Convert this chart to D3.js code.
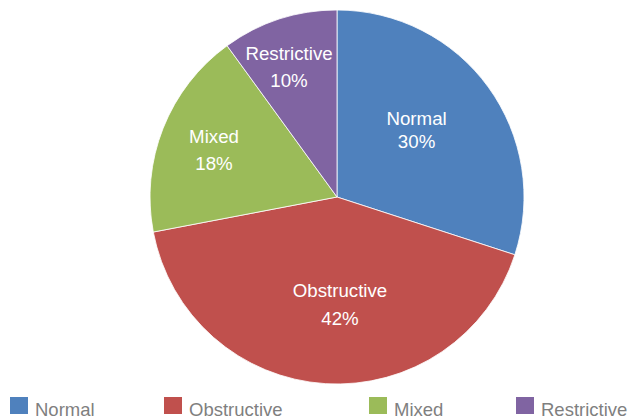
<!DOCTYPE html>
<html>
<head>
<meta charset="utf-8">
<script src="https://cdn.jsdelivr.net/npm/d3@7"></script>
<style>
  body { margin: 0; background: #fff; }
  svg text { font-family: "Liberation Sans", Arial, sans-serif; }
</style>
</head>
<body>
<svg id="chart" width="629" height="420"></svg>
<script>
(function() {

    // ---------------------------data---------------------------//
    var categories = ["Normal", "Obstructive", "Mixed", "Restrictive"];
    var percents   = [30, 42, 18, 10];
    var colors     = ["#4F81BD", "#C0504D", "#9BBB59", "#8064A2"];

    // label placement (fraction of radius, angle nudge in degrees, line gap)
    var labelFrac  = [0.557, 0.573, 0.705, 0.743];
    var labelNudge = [-4.2, -5.2, -0.5, -2.2];
    var labelGap   = [23, 28, 27, 27];
    // legend x positions
    var legendX    = [10, 164, 369, 516];

    var svg = d3.select("#chart");
    var cx = 337, cy = 197, r = 187;

    var pie = d3.pie().sort(null).value(function(d){ return d; });
    var arcs = pie(percents);
    var arc = d3.arc().innerRadius(0).outerRadius(r);

    var g = svg.append("g").attr("transform", "translate(" + cx + "," + cy + ")");

    g.selectAll("path")
      .data(arcs)
      .enter().append("path")
      .attr("d", arc)
      .attr("fill", function(d, i){ return colors[i]; })
      .attr("stroke", "#fff")
      .attr("stroke-width", 0.8);

    // slice labels
    var labels = g.selectAll("text.lbl")
      .data(arcs)
      .enter().append("text")
      .attr("class", "lbl")
      .attr("fill", "#fff")
      .attr("font-size", "18.7px")
      .attr("text-anchor", "middle")
      .attr("transform", function(d, i) {
          var a = (d.startAngle + d.endAngle) / 2 + labelNudge[i] * Math.PI / 180;
          var dist = labelFrac[i] * r;
          var x = dist * Math.sin(a), y = -dist * Math.cos(a);
          // y is the middle of the two-line block
          var top = y - (labelGap[i] + 13.5) / 2 + 13.5;
          return "translate(" + x + "," + top + ")";
      });

    labels.append("tspan")
      .attr("x", 0)
      .text(function(d, i){ return categories[i]; });
    labels.append("tspan")
      .attr("x", 0)
      .attr("dy", function(d, i){ return labelGap[i]; })
      .text(function(d){ return d.data + "%"; });

    // legend
    var leg = svg.selectAll("g.leg")
      .data(categories)
      .enter().append("g")
      .attr("class", "leg")
      .attr("transform", function(d, i){ return "translate(" + legendX[i] + ",397)"; });

    leg.append("rect")
      .attr("width", 18)
      .attr("height", 17)
      .attr("fill", function(d, i){ return colors[i]; });

    leg.append("text")
      .attr("x", 25)
      .attr("y", 18.7)
      .attr("font-size", "18.5px")
      .attr("fill", "#7F7F7F")
      .text(function(d){ return d; });

}());
</script>
</body>
</html>
